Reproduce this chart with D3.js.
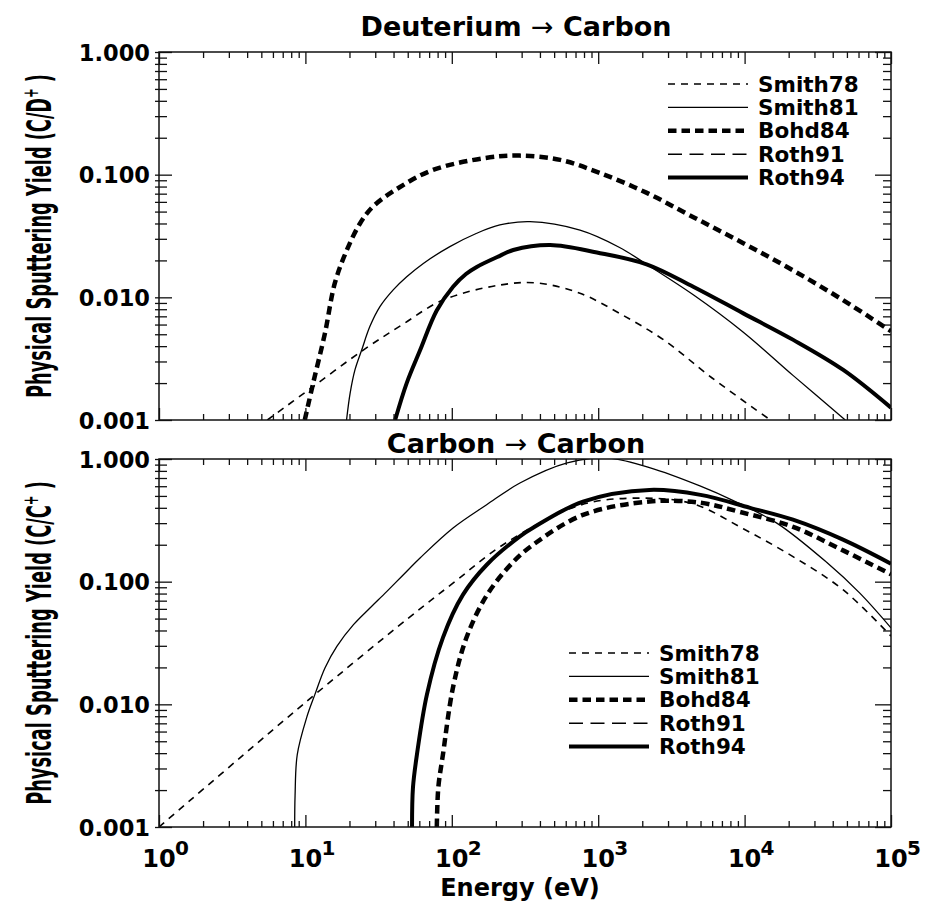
<!DOCTYPE html>
<html>
<head>
<meta charset="utf-8">
<script src="https://cdn.jsdelivr.net/npm/d3@7"></script>
<style>
body { margin: 0; background: #fff; }
text { font-family: "DejaVu Sans", sans-serif; font-weight: bold; fill: #000; }
</style>
</head>
<body>
<svg id="chart" width="927" height="903"></svg>
<script>
const energyDomain = [1, 1e5];
const yieldDomain = [0.001, 1];
const xMajorTicks = [1, 10, 100, 1000, 10000, 100000];
const xTickExponents = ['0', '1', '2', '3', '4', '5'];
const yMajorTicks = [0.001, 0.01, 0.1, 1];
const yTickLabels = ['0.001', '0.010', '0.100', '1.000'];
const seriesNames = ['Smith78', 'Smith81', 'Bohd84', 'Roth91', 'Roth94'];

// Deuterium -> Carbon, [energy (eV), yield]
const dSmith78 = [[5.5, 0.001], [10.8, 0.0018], [24.7, 0.0037], [46, 0.0060], [87, 0.0095], [214, 0.0126],
    [380, 0.0131], [750, 0.0108], [1400, 0.0074], [2800, 0.0045], [6000, 0.0022], [15000, 0.001]];
const dSmith81 = [[19.1, 0.001], [20.2, 0.00165], [21.8, 0.00256], [24.2, 0.0037], [27.6, 0.0058],
    [32.3, 0.0084], [39.8, 0.0115], [49.2, 0.0147], [63.9, 0.0189], [97, 0.0259], [148, 0.0333],
    [213, 0.0389], [342, 0.0414], [751, 0.0353], [1400, 0.0255], [2140, 0.0186], [4460, 0.0105],
    [9800, 0.0052], [21500, 0.0023], [48700, 0.001]];
const dBohd84 = [[9.9, 0.001], [11.3, 0.002], [13.6, 0.0051], [15.9, 0.0131], [19.2, 0.0243], [23.6, 0.040],
    [29, 0.055], [44, 0.079], [74, 0.109], [164, 0.136], [290, 0.143], [550, 0.132], [1030, 0.103],
    [2150, 0.071], [4470, 0.045], [9800, 0.0276], [21400, 0.0166], [47000, 0.0095], [100000, 0.0053]];
const dRoth91 = []; // not visible in this panel
const dRoth94 = [[41, 0.001], [49.2, 0.002], [60.7, 0.0037], [78.9, 0.0078], [102, 0.0122], [125, 0.0155],
    [148, 0.0177], [213, 0.0218], [263, 0.0243], [470, 0.0267], [980, 0.0232], [2140, 0.0186], [4460, 0.0122],
    [9800, 0.0074], [21500, 0.0045], [47200, 0.00256], [100000, 0.00126]];

// Carbon -> Carbon
const cSmith78 = [[1, 0.001], [6, 0.0062], [11.6, 0.012], [50, 0.05], [105, 0.10], [224, 0.2], [750, 0.42],
    [2000, 0.48], [4470, 0.43], [9800, 0.27], [21400, 0.16], [47000, 0.086], [100000, 0.036]];
const cSmith81 = [[8.45, 0.001], [8.5, 0.0018], [8.8, 0.0039], [10.2, 0.0078], [11.6, 0.012], [13.6, 0.0198],
    [16.4, 0.0297], [21.3, 0.0446], [27.6, 0.061], [35.9, 0.083], [46.7, 0.114], [60.7, 0.156], [102, 0.274],
    [173, 0.424], [292, 0.637], [614, 0.93], [1150, 1.02], [2240, 0.85], [5000, 0.60], [8300, 0.46],
    [16600, 0.30], [36500, 0.143], [61000, 0.081], [100000, 0.042]];
const cBohd84 = [[79, 0.001], [80.9, 0.0021], [87, 0.0039], [102, 0.0138], [126, 0.035], [174, 0.078],
    [263, 0.145], [359, 0.20], [787, 0.35], [2240, 0.45], [5000, 0.44], [9300, 0.37], [21400, 0.28],
    [47000, 0.18], [100000, 0.115]];
const cRoth91 = []; // not visible in this panel
const cRoth94 = [[53.5, 0.001], [54.3, 0.0021], [57.8, 0.0039], [67.6, 0.012], [87, 0.035], [119, 0.078],
    [174, 0.138], [292, 0.234], [359, 0.275], [787, 0.45], [2240, 0.56], [5000, 0.51], [10900, 0.40],
    [21400, 0.32], [47000, 0.22], [100000, 0.14]];

const lineStyles = {
    Smith78: {width: 1.6, dash: '7,6'},
    Smith81: {width: 1.3, dash: null},
    Bohd84: {width: 4.5, dash: '8.5,5'},
    Roth91: {width: 1.6, dash: '14,7.5'},
    Roth94: {width: 4, dash: null}
};

const svg = d3.select('#chart');
const left = 159, right = 891;
const x = d3.scaleLog().domain(energyDomain).range([left, right]);

const xMinor = [];
for (let d = 0; d < 5; d++) {
    for (let k = 2; k <= 9; k++) xMinor.push(k * Math.pow(10, d));
}
const yMinor = [];
for (let d = -3; d < 0; d++) {
    for (let k = 2; k <= 9; k++) yMinor.push(k * Math.pow(10, d));
}

const panels = [
    {top: 52, bottom: 420, title: 'Deuterium', titleY: 36, ion: 'D',
     series: [dSmith78, dSmith81, dBohd84, dRoth91, dRoth94], legendX: 668, legendY: 84},
    {top: 459, bottom: 827, title: 'Carbon', titleY: 453, ion: 'C',
     series: [cSmith78, cSmith81, cBohd84, cRoth91, cRoth94], legendX: 569, legendY: 653}
];

function noDomain(sel) {
    sel.select('.domain').remove();
    sel.selectAll('.tick line').attr('stroke', '#111').attr('stroke-width', 1.3);
}

panels.forEach(function(p, pi) {
    const y = d3.scaleLog().domain(yieldDomain).range([p.bottom, p.top]);
    const g = svg.append('g');

    g.append('clipPath').attr('id', 'clip' + pi)
        .append('rect')
        .attr('x', left).attr('y', p.top)
        .attr('width', right - left).attr('height', p.bottom - p.top);

    const line = d3.line()
        .x(function(d) { return x(d[0]); })
        .y(function(d) { return y(d[1]); })
        .curve(d3.curveCatmullRom.alpha(0.5));

    p.series.forEach(function(s, i) {
        if (!s.length) return;
        const st = lineStyles[seriesNames[i]];
        g.append('path')
            .attr('clip-path', 'url(#clip' + pi + ')')
            .attr('d', line(s))
            .attr('fill', 'none')
            .attr('stroke', '#000')
            .attr('stroke-width', st.width)
            .attr('stroke-dasharray', st.dash);
    });

    // frame
    g.append('rect')
        .attr('x', left).attr('y', p.top)
        .attr('width', right - left).attr('height', p.bottom - p.top)
        .attr('fill', 'none').attr('stroke', '#111').attr('stroke-width', 1.5);

    // x ticks, bottom and top edges
    g.append('g').attr('transform', 'translate(0,' + p.bottom + ')')
        .call(d3.axisBottom(x).tickValues(xMinor).tickSize(-6).tickFormat('')).call(noDomain);
    g.append('g').attr('transform', 'translate(0,' + p.bottom + ')')
        .call(d3.axisBottom(x).tickValues(xMajorTicks).tickSize(-12).tickFormat('')).call(noDomain);
    g.append('g').attr('transform', 'translate(0,' + p.top + ')')
        .call(d3.axisTop(x).tickValues(xMinor).tickSize(-6).tickFormat('')).call(noDomain);
    g.append('g').attr('transform', 'translate(0,' + p.top + ')')
        .call(d3.axisTop(x).tickValues(xMajorTicks).tickSize(-12).tickFormat('')).call(noDomain);

    // y ticks, left and right edges
    g.append('g').attr('transform', 'translate(' + left + ',0)')
        .call(d3.axisLeft(y).tickValues(yMinor).tickSize(-8).tickFormat('')).call(noDomain)
        .selectAll('.tick line').attr('x1', -4);
    g.append('g').attr('transform', 'translate(' + left + ',0)')
        .call(d3.axisLeft(y).tickValues(yMajorTicks).tickSize(-13).tickFormat('')).call(noDomain)
        .selectAll('.tick line').attr('x1', -4);
    g.append('g').attr('transform', 'translate(' + right + ',0)')
        .call(d3.axisRight(y).tickValues(yMinor).tickSize(-8).tickFormat('')).call(noDomain);
    g.append('g').attr('transform', 'translate(' + right + ',0)')
        .call(d3.axisRight(y).tickValues(yMajorTicks).tickSize(-16).tickFormat('')).call(noDomain);

    // y tick labels
    g.selectAll('text.ylab')
        .data(yMajorTicks)
        .join('text')
        .attr('class', 'ylab')
        .attr('x', 150)
        .attr('y', function(d) { return y(d) + 8.5; })
        .attr('text-anchor', 'end')
        .style('font-size', '22.5px')
        .text(function(d, i) { return yTickLabels[i]; });

    // title
    const t = g.append('text')
        .attr('x', 516).attr('y', p.titleY)
        .attr('text-anchor', 'middle')
        .style('font-size', '27px');
    t.append('tspan').text(p.title + '  ');
    t.append('tspan').style('font-weight', 'normal').text('\u2192');
    t.append('tspan').text(' Carbon');

    // y axis title, a condensed face squeezed to its width
    const cy = (p.top + p.bottom) / 2;
    const yl = g.append('text')
        .attr('text-anchor', 'middle')
        .style('font-size', '34px');
    yl.append('tspan').text('Physical Sputtering Yield (C/' + p.ion);
    yl.append('tspan').attr('dy', -13).style('font-size', '22px').text('+');
    yl.append('tspan').attr('dy', 13).text(' )');
    const natural = yl.node().getComputedTextLength();
    yl.attr('transform', 'translate(51,' + cy + ') rotate(-90) scale(' + (324 / natural) + ',1)');

    // legend
    const lg = g.append('g');
    seriesNames.forEach(function(name, i) {
        const ly = p.legendY + i * 23.4;
        const st = lineStyles[name];
        lg.append('line')
            .attr('x1', p.legendX).attr('x2', p.legendX + 80)
            .attr('y1', ly).attr('y2', ly)
            .attr('stroke', '#000')
            .attr('stroke-width', st.width)
            .attr('stroke-dasharray', st.dash);
        lg.append('text')
            .attr('x', p.legendX + 90).attr('y', ly + 7.5)
            .style('font-size', '21.5px')
            .text(name);
    });

    // x tick labels only under the lower panel
    if (pi === panels.length - 1) {
        const xl = g.selectAll('g.xlab')
            .data(xMajorTicks)
            .join('g')
            .attr('class', 'xlab');
        xl.append('text')
            .attr('x', function(d) { return x(d); })
            .attr('y', 867)
            .attr('text-anchor', 'middle')
            .style('font-size', '24px')
            .text('10');
        xl.append('text')
            .attr('x', function(d) { return x(d) + 16; })
            .attr('y', 855)
            .style('font-size', '20px')
            .text(function(d, i) { return xTickExponents[i]; });

        g.append('text')
            .attr('x', 520).attr('y', 896)
            .attr('text-anchor', 'middle')
            .style('font-size', '24px')
            .text('Energy (eV)');
    }
});
</script>
</body>
</html>
